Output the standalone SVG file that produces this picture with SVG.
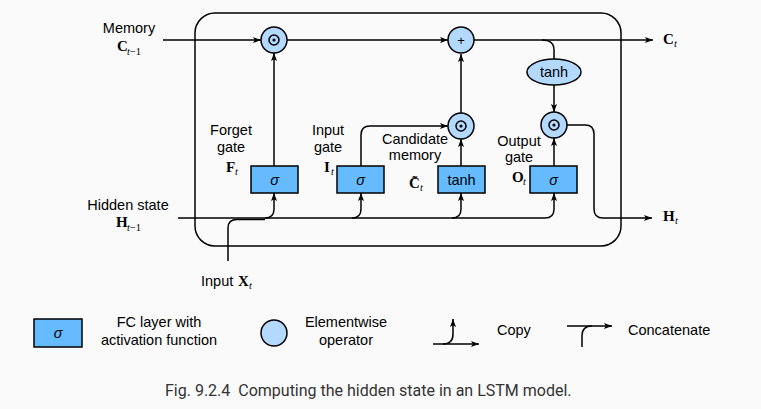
<svg xmlns="http://www.w3.org/2000/svg" width="761" height="409" viewBox="0 0 761 409">
<defs>
<marker id="ah" markerWidth="8" markerHeight="6" refX="8" refY="3" orient="auto" markerUnits="userSpaceOnUse">
<path d="M0,0 L8,3 L0,6 L1.8,3 z" fill="#000"/>
</marker>
<style>
.ln{fill:none;stroke:#000;stroke-width:1.5}
.arr{fill:none;stroke:#000;stroke-width:1.5;marker-end:url(#ah)}
.box{fill:#66bbff;stroke:#000;stroke-width:1.5}
.op{fill:#b3d9ff;stroke:#000;stroke-width:1.5}
.t{font-family:"Liberation Sans",Arial,sans-serif;font-size:14.5px;fill:#000}
.c{text-anchor:middle}
.m{font-family:"Liberation Serif","Times New Roman",serif;font-weight:bold;font-size:15px;fill:#000}
.s{font-family:"Liberation Serif","Times New Roman",serif;font-size:10.5px;fill:#000}
.i{font-style:italic}
.cap{font-family:Roboto,"Liberation Sans",sans-serif;font-size:16px;fill:#333}
</style>
</defs>
<rect width="761" height="409" fill="#fafafa"/>
<rect x="195" y="13" width="426" height="233" rx="20" class="ln"/>

<g id="connectors">
<path class="arr" d="M163,40 H261"/>
<path class="arr" d="M287,40 H448"/>
<path class="arr" d="M474,40 H653"/>
<path class="ln" d="M542,40 Q554,40 554,50 V59"/>
<path class="arr" d="M554,85 V112"/>
<path class="arr" d="M567,125 H585 Q594,125 594,134 V209 Q594,218 603,218 H652"/>
<path class="arr" d="M274,166 V53"/>
<path class="arr" d="M361,166 V135 Q361,126 370,126 H448"/>
<path class="arr" d="M461,166 V139"/>
<path class="arr" d="M461,113 V54"/>
<path class="arr" d="M554,166 V138"/>
<path class="arr" d="M178,218 H545 Q554,218 554,209 V193"/>
<path class="arr" d="M265,218 Q274,218 274,209 V193"/>
<path class="arr" d="M352,218 Q361,218 361,209 V193"/>
<path class="arr" d="M452,218 Q461,218 461,209 V193"/>
<path class="ln" d="M228,261 V228 Q228,219.5 237,219.5 H265"/>
</g>

<g id="forget_mul"><circle cx="274" cy="40" r="13" class="op"/><circle cx="274" cy="40" r="5" fill="none" stroke="#000" stroke-width="1.5"/><circle cx="274" cy="40" r="1.6" fill="#000"/></g>
<g id="plus"><circle cx="461" cy="40" r="13" class="op"/><text x="461" y="45" class="t c" style="font-size:13px">+</text></g>
<g id="tanh_op"><ellipse cx="554" cy="72" rx="27" ry="13" class="op"/><text x="554" y="77" class="t c">tanh</text></g>
<g id="cand_mul"><circle cx="461" cy="126" r="13" class="op"/><circle cx="461" cy="126" r="5" fill="none" stroke="#000" stroke-width="1.5"/><circle cx="461" cy="126" r="1.6" fill="#000"/></g>
<g id="out_mul"><circle cx="554" cy="125" r="13" class="op"/><circle cx="554" cy="125" r="5" fill="none" stroke="#000" stroke-width="1.5"/><circle cx="554" cy="125" r="1.6" fill="#000"/></g>

<g id="forget_gate"><rect x="251" y="166" width="47" height="27" class="box"/><text x="274.5" y="184.5" class="t c i">σ</text></g>
<g id="input_gate"><rect x="337" y="166" width="47" height="27" class="box"/><text x="360.5" y="184.5" class="t c i">σ</text></g>
<g id="candidate"><rect x="438" y="166" width="47" height="27" class="box"/><text x="461.5" y="184.5" class="t c">tanh</text></g>
<g id="output_gate"><rect x="530" y="166" width="47" height="27" class="box"/><text x="553.5" y="184.5" class="t c i">σ</text></g>

<g id="labels">
<text x="129" y="33" class="t c">Memory</text>
<text x="117" y="51" class="m">C</text><text x="127" y="55" class="s"><tspan class="i">t</tspan>−1</text>
<text x="231" y="135" class="t c">Forget</text><text x="231" y="152" class="t c">gate</text>
<text x="226" y="172" class="m">F</text><text x="235" y="175" class="s i">t</text>
<text x="328" y="135" class="t c">Input</text><text x="328" y="152" class="t c">gate</text>
<text x="324" y="172" class="m">I</text><text x="331" y="175" class="s i">t</text>
<text x="415" y="144" class="t c">Candidate</text><text x="415" y="160" class="t c">memory</text>
<text x="409" y="188" class="m">C&#x303;</text><text x="420" y="191" class="s i">t</text>
<text x="519" y="146" class="t c">Output</text><text x="519" y="162" class="t c">gate</text>
<text x="512" y="182" class="m">O</text><text x="523" y="185" class="s i">t</text>
<text x="128" y="210" class="t c">Hidden state</text>
<text x="116" y="227" class="m">H</text><text x="127" y="231" class="s"><tspan class="i">t</tspan>−1</text>
<text x="201" y="286" class="t">Input</text><text x="238" y="286" class="m">X</text><text x="249" y="289" class="s i">t</text>
<text x="663" y="44" class="m">C</text><text x="674" y="47" class="s i">t</text>
<text x="663" y="221" class="m">H</text><text x="675" y="224" class="s i">t</text>
</g>

<g id="legend">
<rect x="34" y="319" width="48" height="28" class="box"/><text x="58" y="338" class="t c i">σ</text>
<text x="159" y="327" class="t c">FC layer with</text><text x="159" y="345" class="t c">activation function</text>
<circle cx="274" cy="333" r="13" class="op"/>
<text x="346" y="327" class="t c">Elementwise</text><text x="346" y="345" class="t c">operator</text>
<path class="arr" d="M433,344 H479"/>
<path class="arr" d="M443,344 Q453,344 453,334 V319"/>
<text x="497" y="335" class="t">Copy</text>
<path class="arr" d="M567,326 H612"/>
<path class="ln" d="M582,347 V336 Q582,326 592,326"/>
<text x="628" y="335" class="t">Concatenate</text>
</g>

<text x="165" y="396" class="cap" xml:space="preserve">Fig. 9.2.4  Computing the hidden state in an LSTM model.</text>
</svg>
